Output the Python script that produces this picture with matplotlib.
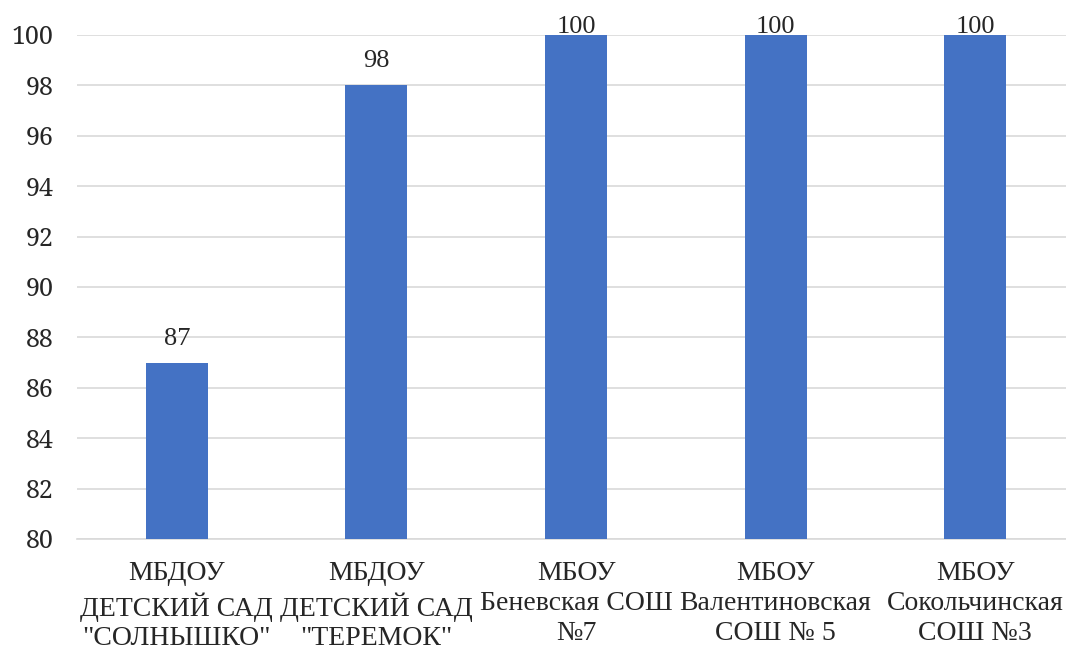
import matplotlib
matplotlib.use("Agg")
import matplotlib.pyplot as plt
import numpy as np

FONT = "Liberation Serif"
TICKFONT = "Noto Serif"
plt.rcParams["font.family"] = "serif"
plt.rcParams["font.serif"] = [FONT]

CATS = [
    "МБДОУ\nДЕТСКИЙ САД\n\"СОЛНЫШКО\"",
    "МБДОУ\nДЕТСКИЙ САД\n\"ТЕРЕМОК\"",
    "МБОУ\nБеневская СОШ\n№7",
    "МБОУ\nВалентиновская\nСОШ № 5",
    "МБОУ\nСокольчинская\nСОШ №3",
]
VALUES = [87, 98, 100, 100, 100]
YTICKS = list(range(80, 101, 2))

BAR = "#4472C4"
GRID = "#d9d9d9"
TXT = "#262626"

fig = plt.figure(figsize=(10.66, 6.48), dpi=100)
ax = fig.add_axes([77 / 1066, 109 / 648, 998 / 1066, 504 / 648])

x = np.arange(len(CATS))
bars = ax.bar(x, VALUES, 0.31, color=BAR, zorder=3)

ymin, ymax = YTICKS[0], YTICKS[-1]
for b, v in zip(bars, VALUES):
    # labels at the top of the plot get squeezed down, like in the original
    off = 1.5 if v >= ymax else 13
    ax.annotate(f"{v}", xy=(b.get_x() + b.get_width() / 2, v), xytext=(0, off),
                textcoords="offset points", ha="center", va="baseline",
                fontsize=19, color=TXT, family=[FONT], annotation_clip=False)

ax.set_xlim(-0.5, len(CATS) - 0.5)
ax.set_ylim(ymin, ymax)
ax.set_yticks(YTICKS)
ax.set_yticklabels([str(t) for t in YTICKS], fontsize=18, color=TXT, family=[TICKFONT])
ax.set_xticks(x)
ax.set_xticklabels(CATS, fontsize=20, color=TXT, family=[FONT], linespacing=1.25)
ax.tick_params(axis="y", length=0, pad=17)
ax.tick_params(axis="x", length=0, pad=16)
ax.grid(True, axis="y", color=GRID, lw=1.2, zorder=0)
for s in ("top", "right", "left"):
    ax.spines[s].set_visible(False)
ax.spines["bottom"].set_color(GRID)
ax.spines["bottom"].set_linewidth(1.2)

fig.savefig("out.png", dpi=100)
